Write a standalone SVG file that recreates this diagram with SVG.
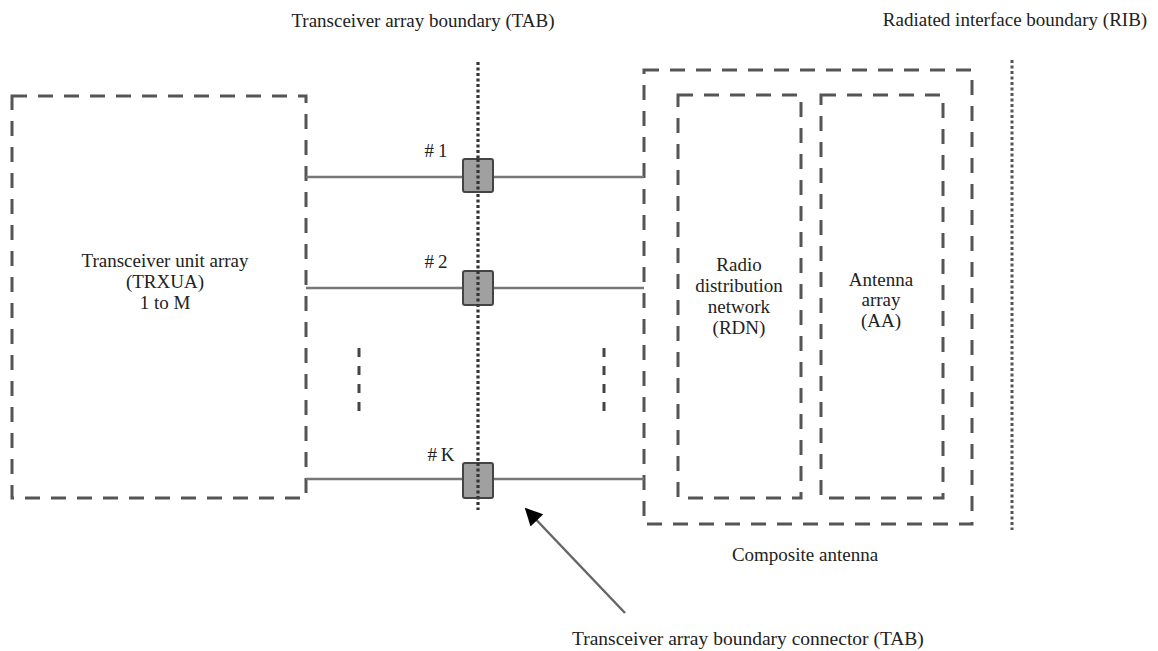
<svg xmlns="http://www.w3.org/2000/svg" width="1158" height="651" viewBox="0 0 1158 651">
  <defs>
    <style>
      text { font-family: "Liberation Serif", "Times New Roman", serif; font-size: 19px; fill: #222; text-anchor: middle; }
      .box { fill: none; stroke: #555; stroke-width: 3; stroke-dasharray: 15 11; }
      .dots { fill: none; stroke: #333; stroke-width: 3.2; stroke-dasharray: 3 2.5; }
      .dots-light { fill: none; stroke: #555; stroke-width: 3; stroke-dasharray: 3 2.5; }
      .link { fill: none; stroke: #777; stroke-width: 2.5; }
      .port { fill: #a0a0a0; stroke: #444; stroke-width: 2; }
      .ellipsis { fill: none; stroke: #444; stroke-width: 3; stroke-dasharray: 9 9; }
      .pointer { fill: none; stroke: #666; stroke-width: 2.5; }
    </style>
    <marker id="arrowhead" viewBox="0 0 10 10" refX="9" refY="5" markerWidth="8" markerHeight="7" markerUnits="strokeWidth" orient="auto">
      <path d="M0,0 L10,5 L0,10 z" fill="#000"/>
    </marker>
  </defs>

  <rect width="1158" height="651" fill="#fff"/>

  <!-- boundary labels -->
  <text x="423" y="27">Transceiver array boundary (TAB)</text>
  <text x="1015" y="26">Radiated interface boundary (RIB)</text>

  <!-- transceiver unit array -->
  <g id="trxua">
    <rect class="box" x="12" y="96" width="294" height="402"/>
    <text x="165" y="267">Transceiver unit array</text>
    <text x="165" y="288">(TRXUA)</text>
    <text x="165" y="309">1 to M</text>
  </g>

  <!-- composite antenna -->
  <g id="composite-antenna">
    <rect class="box" x="644" y="70" width="328" height="454"/>
    <text x="805" y="561">Composite antenna</text>
  </g>
  <g id="rdn">
    <rect class="box" x="678" y="95" width="123" height="403"/>
    <text x="739" y="271">Radio</text>
    <text x="739" y="292">distribution</text>
    <text x="739" y="313">network</text>
    <text x="739" y="334">(RDN)</text>
  </g>
  <g id="aa">
    <rect class="box" x="821" y="95" width="122" height="403"/>
    <text x="881" y="286">Antenna</text>
    <text x="881" y="306">array</text>
    <text x="881" y="327">(AA)</text>
  </g>

  <!-- boundaries -->
  <g id="tab-boundary">
    <line class="dots" x1="478" y1="62" x2="478" y2="510"/>
  </g>
  <g id="rib-boundary">
    <line class="dots-light" x1="1012" y1="60" x2="1012" y2="530"/>
  </g>

  <!-- connectors -->
  <g id="connectors">
    <line class="link" x1="306" y1="177" x2="644" y2="177"/>
    <line class="link" x1="306" y1="288" x2="644" y2="288" stroke="#444"/>
    <line class="link" x1="306" y1="479" x2="644" y2="479"/>
    <line class="ellipsis" x1="359" y1="348" x2="359" y2="413"/>
    <line class="ellipsis" x1="604" y1="348" x2="604" y2="413"/>
    <line class="pointer" x1="625" y1="613" x2="526" y2="509" marker-end="url(#arrowhead)"/>
  </g>

  <!-- TAB connectors -->
  <g id="port-1">
    <rect class="port" x="463" y="159" width="30" height="33" rx="2"/>
    <line class="dots" x1="478" y1="159" x2="478" y2="192"/>
    <text x="436" y="157">#&#8201;1</text>
  </g>
  <g id="port-2">
    <rect class="port" x="463" y="271" width="30" height="34" rx="2"/>
    <line class="dots" x1="478" y1="271" x2="478" y2="305"/>
    <text x="436" y="268">#&#8201;2</text>
  </g>
  <g id="port-k">
    <rect class="port" x="463" y="463" width="30" height="35" rx="2"/>
    <line class="dots" x1="478" y1="463" x2="478" y2="498"/>
    <text x="441" y="461">#&#8201;K</text>
  </g>

  <text x="572" y="645" style="text-anchor:start;font-size:19.5px">Transceiver array boundary connector (TAB)</text>
</svg>
